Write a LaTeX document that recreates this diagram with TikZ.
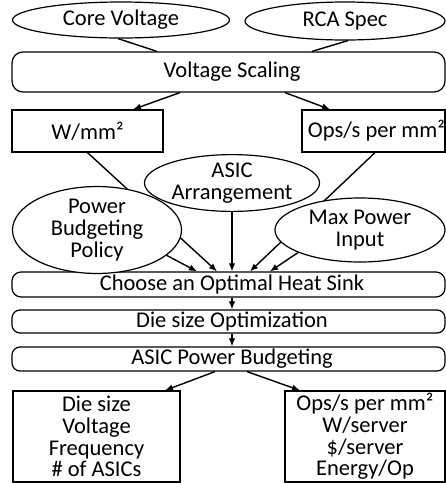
\documentclass[tikz,border=0pt]{standalone}
\usepackage{fontspec}
\setmainfont{Carlito}
\usetikzlibrary{shapes.geometric,arrows.meta}

\begin{document}
\begin{tikzpicture}[x=1pt,y=-1pt,
  every node/.style={font=\fontsize{22.5}{21.7}\selectfont, inner sep=0pt, align=center},
  oval/.style={ellipse, draw, line width=1.2pt, fill=white},
  stage/.style={rounded corners=9pt, draw, line width=1.2pt, minimum width=433pt},
  databox/.style={rectangle, draw, line width=1.2pt},
  link/.style={line width=1.4pt},
  flow/.style={line width=1.4pt, -{Latex[length=8pt,width=6.5pt]}}]
\useasboundingbox (0,0) rectangle (446,483);

% inputs to the voltage scaling step
\node[oval, minimum width=217pt, minimum height=36pt] (core) at (121,20) {Core Voltage};
\node[oval, minimum width=200pt, minimum height=38pt] (rca) at (345,21) {RCA Spec};
\node[stage, minimum height=40pt, rounded corners=11pt] (vs) at (228.5,72) {\hspace*{7pt}Voltage Scaling};

\draw[link] ([xshift=-3pt]core.south) -- ([xshift=-71.5pt]vs.north);
\draw[link] ([xshift=3pt]rca.south) -- ([xshift=83.5pt]vs.north);

% densities derived from voltage scaling
\node[databox, minimum width=151pt, minimum height=42pt] (wmm) at (87.5,131) {W/mm²};
\node[databox, minimum width=143pt, minimum height=42pt] (ops) at (373.5,131) {\hspace*{6pt}Ops/s per mm²};

\draw[flow] ([xshift=-48.5pt]vs.south) -- ([xshift=45.5pt]wmm.north);
\draw[flow] ([xshift=56.5pt]vs.south) -- ([xshift=-43.5pt]ops.north);

% heat sink selection and the following steps
\node[stage, minimum height=25pt] (hs) at (228.5,284.5) {\hspace*{7pt}Choose an Optimal Heat Sink};
\node[stage, minimum height=23pt, rounded corners=8pt] (dso) at (228.5,321.5) {\hspace*{7pt}Die size Optimization};
\node[stage, minimum height=24pt, rounded corners=8pt] (apb) at (228.5,359) {\hspace*{7pt}ASIC Power Budgeting};

% long links pass behind the policy ovals
\draw[flow] (wmm.south) -- ([xshift=-11.5pt]hs.north);
\draw[flow] ([xshift=1.5pt]ops.south) -- ([xshift=21.5pt]hs.north);

\node[oval, minimum width=175pt, minimum height=53pt] (asic) at (232,183) {ASIC\\Arrangement};
\node[oval, minimum width=169pt, minimum height=65pt] (pbp) at (97,230) {Power\\Budgeting\\Policy};
\node[oval, minimum width=170pt, minimum height=64pt] (mpi) at (360,230) {Max Power\\Input};

\draw[flow] (asic.south) -- ([xshift=3.5pt]hs.north);
\draw[flow] (pbp.-20) -- ([xshift=-31.5pt]hs.north);
\draw[flow] (mpi.200) -- ([xshift=41.5pt]hs.north);

\draw[flow] ([xshift=3.5pt]hs.south) -- ([xshift=3.5pt]dso.north);
\draw[flow] ([xshift=3.5pt]dso.south) -- ([xshift=3.5pt]apb.north);

% outputs
\node[databox, minimum width=167pt, minimum height=91pt] (out1) at (96.5,436.5)
  {Die size\\Voltage\\Frequency\\\# of ASICs};
\node[databox, minimum width=160pt, minimum height=91pt] (out2) at (365,436.5)
  {Ops/s per mm²\\W/server\\\$/server\\Energy/Op};

\draw[flow] ([xshift=-13.5pt]apb.south) -- ([xshift=68.5pt]out1.north);
\draw[flow] ([xshift=18.5pt]apb.south) -- ([xshift=-65pt]out2.north);
\end{tikzpicture}
\end{document}
